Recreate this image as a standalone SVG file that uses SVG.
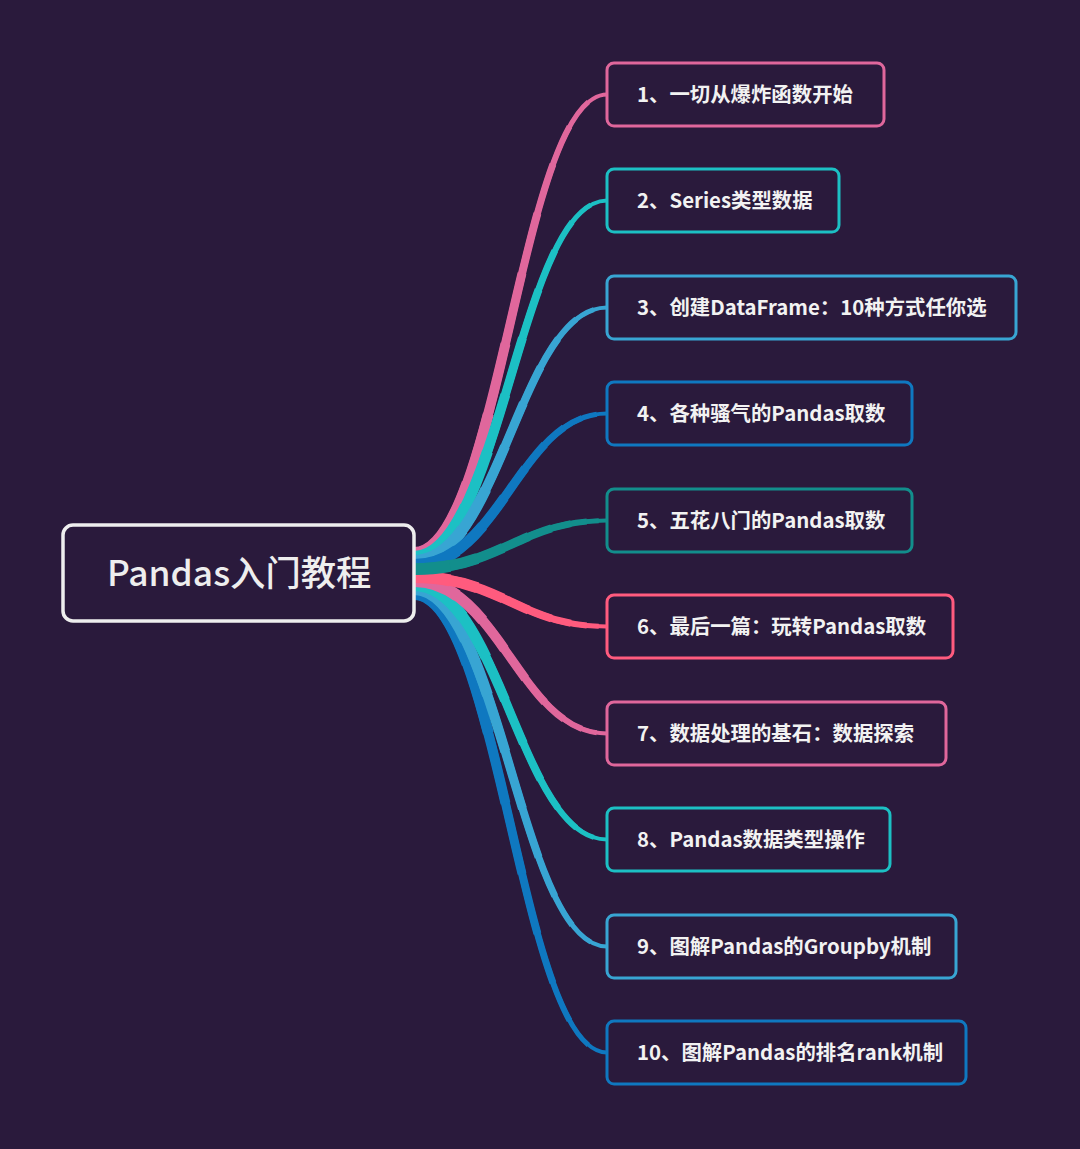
<svg xmlns="http://www.w3.org/2000/svg" xmlns:xlink="http://www.w3.org/1999/xlink" width="1080" height="1149" viewBox="0 0 1080 1149">
<style>
.bg{fill:#2a1a3c}
.node rect{fill:#2a1a3c;stroke-width:3}
.node text{font-family:"Noto Sans CJK SC","Noto Sans",sans-serif;font-weight:bold;font-size:20.4px;fill:#f2f2f2}
.root rect{fill:#2a1a3c;stroke:#eeeeee;stroke-width:3.5}
.root text{font-family:"Noto Sans CJK SC","Noto Sans",sans-serif;font-weight:500;font-size:35.3px;fill:#eeeeee}
.conn use{fill:none;stroke-linecap:butt}
.s0{stroke-width:4}
.s1{stroke-width:5;stroke-dasharray:96 300}
.s2{stroke-width:6;stroke-dasharray:90 300}
.s3{stroke-width:7;stroke-dasharray:82 300}
.s4{stroke-width:8;stroke-dasharray:72 300}
.s5{stroke-width:9;stroke-dasharray:60 300}
.s6{stroke-width:10;stroke-dasharray:46 300}
.s7{stroke-width:11;stroke-dasharray:32 300}
.s8{stroke-width:12;stroke-dasharray:18 300}
</style>
<defs>
<path id="p1" pathLength="100" d="M414 553 C500 553 520 94.5 607 94.5"/>
<path id="p2" pathLength="100" d="M414 557 C500 557 520 200.5 607 200.5"/>
<path id="p3" pathLength="100" d="M414 561 C500 561 520 307.5 607 307.5"/>
<path id="p4" pathLength="100" d="M414 565 C500 565 520 413.5 607 413.5"/>
<path id="p5" pathLength="100" d="M414 569 C500 569 520 520.5 607 520.5"/>
<path id="p6" pathLength="100" d="M414 577 C500 577 520 626.5 607 626.5"/>
<path id="p7" pathLength="100" d="M414 581 C500 581 520 733.5 607 733.5"/>
<path id="p8" pathLength="100" d="M414 585 C500 585 520 839.5 607 839.5"/>
<path id="p9" pathLength="100" d="M414 589 C500 589 520 946.5 607 946.5"/>
<path id="p10" pathLength="100" d="M414 594 C500 594 520 1052.5 607 1052.5"/>
</defs>
<rect class="bg" x="0" y="0" width="1080" height="1149"/>
<g id="connectors" class="conn">
<g id="c1" stroke="#e0679c"><use href="#p1" class="s0"/><use href="#p1" class="s1"/><use href="#p1" class="s2"/><use href="#p1" class="s3"/><use href="#p1" class="s4"/><use href="#p1" class="s5"/><use href="#p1" class="s6"/><use href="#p1" class="s7"/><use href="#p1" class="s8"/></g>
<g id="c2" stroke="#1cc0c4"><use href="#p2" class="s0"/><use href="#p2" class="s1"/><use href="#p2" class="s2"/><use href="#p2" class="s3"/><use href="#p2" class="s4"/><use href="#p2" class="s5"/><use href="#p2" class="s6"/><use href="#p2" class="s7"/><use href="#p2" class="s8"/></g>
<g id="c3" stroke="#38a5d3"><use href="#p3" class="s0"/><use href="#p3" class="s1"/><use href="#p3" class="s2"/><use href="#p3" class="s3"/><use href="#p3" class="s4"/><use href="#p3" class="s5"/><use href="#p3" class="s6"/><use href="#p3" class="s7"/><use href="#p3" class="s8"/></g>
<g id="c4" stroke="#0f78c0"><use href="#p4" class="s0"/><use href="#p4" class="s1"/><use href="#p4" class="s2"/><use href="#p4" class="s3"/><use href="#p4" class="s4"/><use href="#p4" class="s5"/><use href="#p4" class="s6"/><use href="#p4" class="s7"/><use href="#p4" class="s8"/></g>
<g id="c10" stroke="#0f78c0"><use href="#p10" class="s0"/><use href="#p10" class="s1"/><use href="#p10" class="s2"/><use href="#p10" class="s3"/><use href="#p10" class="s4"/><use href="#p10" class="s5"/><use href="#p10" class="s6"/><use href="#p10" class="s7"/><use href="#p10" class="s8"/></g>
<g id="c9" stroke="#38a5d3"><use href="#p9" class="s0"/><use href="#p9" class="s1"/><use href="#p9" class="s2"/><use href="#p9" class="s3"/><use href="#p9" class="s4"/><use href="#p9" class="s5"/><use href="#p9" class="s6"/><use href="#p9" class="s7"/><use href="#p9" class="s8"/></g>
<g id="c8" stroke="#1cc0c4"><use href="#p8" class="s0"/><use href="#p8" class="s1"/><use href="#p8" class="s2"/><use href="#p8" class="s3"/><use href="#p8" class="s4"/><use href="#p8" class="s5"/><use href="#p8" class="s6"/><use href="#p8" class="s7"/><use href="#p8" class="s8"/></g>
<g id="c7" stroke="#e0679c"><use href="#p7" class="s0"/><use href="#p7" class="s1"/><use href="#p7" class="s2"/><use href="#p7" class="s3"/><use href="#p7" class="s4"/><use href="#p7" class="s5"/><use href="#p7" class="s6"/><use href="#p7" class="s7"/><use href="#p7" class="s8"/></g>
<g id="c6" stroke="#ff5b7e"><use href="#p6" class="s0"/><use href="#p6" class="s1"/><use href="#p6" class="s2"/><use href="#p6" class="s3"/><use href="#p6" class="s4"/><use href="#p6" class="s5"/><use href="#p6" class="s6"/><use href="#p6" class="s7"/><use href="#p6" class="s8"/></g>
<g id="c5" stroke="#128e8c"><use href="#p5" class="s0"/><use href="#p5" class="s1"/><use href="#p5" class="s2"/><use href="#p5" class="s3"/><use href="#p5" class="s4"/><use href="#p5" class="s5"/><use href="#p5" class="s6"/><use href="#p5" class="s7"/><use href="#p5" class="s8"/></g>
</g>
<g id="root" class="root"><rect x="63" y="525" width="351" height="96" rx="10"/><text x="107" y="586">Pandas入门教程</text></g>
<g id="n1" class="node"><rect x="607" y="63" width="277" height="63" rx="7" stroke="#e0679c"/><text x="637" y="101.5">1、一切从爆炸函数开始</text></g>
<g id="n2" class="node"><rect x="607" y="169" width="232" height="63" rx="7" stroke="#1cc0c4"/><text x="637" y="207.5">2、Series类型数据</text></g>
<g id="n3" class="node"><rect x="607" y="276" width="409" height="63" rx="7" stroke="#38a5d3"/><text x="637" y="314.5">3、创建DataFrame：10种方式任你选</text></g>
<g id="n4" class="node"><rect x="607" y="382" width="305" height="63" rx="7" stroke="#0f78c0"/><text x="637" y="420.5">4、各种骚气的Pandas取数</text></g>
<g id="n5" class="node"><rect x="607" y="489" width="305" height="63" rx="7" stroke="#128e8c"/><text x="637" y="527.5">5、五花八门的Pandas取数</text></g>
<g id="n6" class="node"><rect x="607" y="595" width="346" height="63" rx="7" stroke="#ff5b7e"/><text x="637" y="633.5">6、最后一篇：玩转Pandas取数</text></g>
<g id="n7" class="node"><rect x="607" y="702" width="339" height="63" rx="7" stroke="#e0679c"/><text x="637" y="740.5">7、数据处理的基石：数据探索</text></g>
<g id="n8" class="node"><rect x="607" y="808" width="283" height="63" rx="7" stroke="#1cc0c4"/><text x="637" y="846.5">8、Pandas数据类型操作</text></g>
<g id="n9" class="node"><rect x="607" y="915" width="349" height="63" rx="7" stroke="#38a5d3"/><text x="637" y="953.5">9、图解Pandas的Groupby机制</text></g>
<g id="n10" class="node"><rect x="607" y="1021" width="359" height="63" rx="7" stroke="#0f78c0"/><text x="637" y="1059.5">10、图解Pandas的排名rank机制</text></g>
</svg>
